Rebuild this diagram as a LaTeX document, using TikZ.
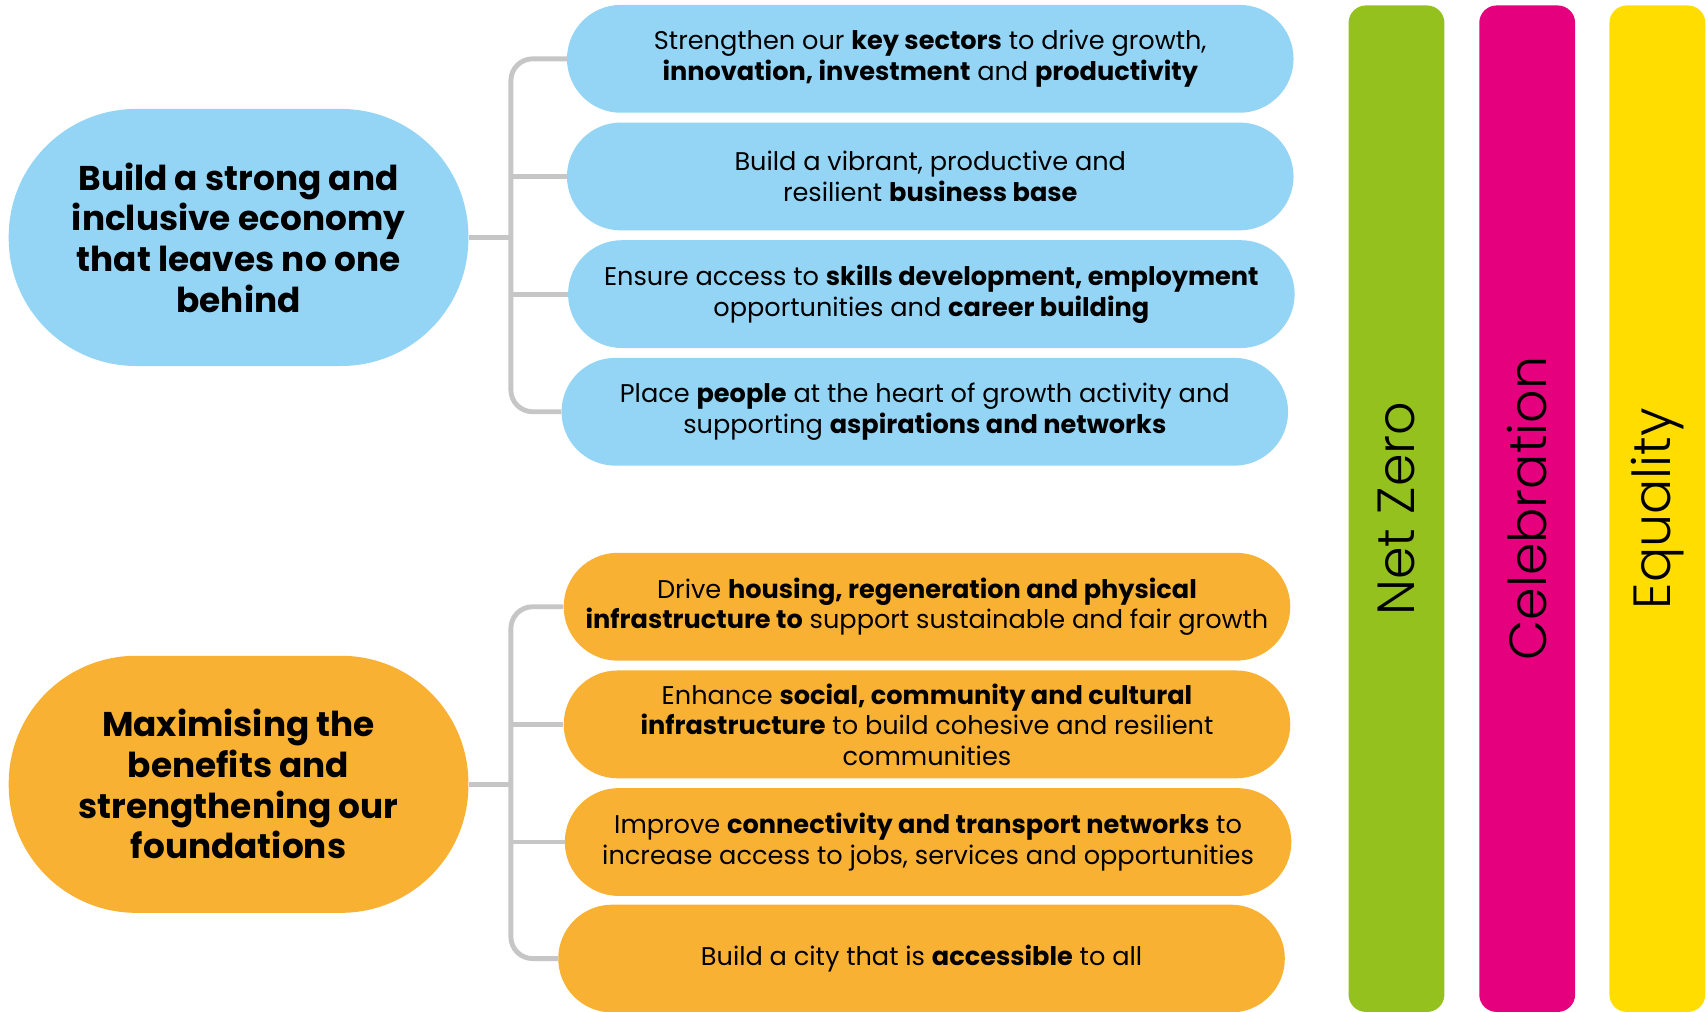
\documentclass[tikz,border=0pt]{standalone}
\usepackage{fontspec}
\setmainfont{Poppins}
\newfontfamily\barfont{Poppins Light}
\definecolor{cblue}{HTML}{94D5F5}
\definecolor{corange}{HTML}{F8B133}
\definecolor{cgreen}{HTML}{95C11F}
\definecolor{cpink}{HTML}{E5007D}
\definecolor{cyellow}{HTML}{FFDD00}
\definecolor{cgray}{HTML}{C6C6C6}
\begin{document}
\begin{tikzpicture}[x=1pt,y=-1pt,
  item/.style={rectangle, rounded corners=49.5pt, minimum width=667pt, minimum height=99pt, inner sep=0pt, align=center, font=\fontsize{23.5}{28}\selectfont, text=black},
  bigitem/.style={rectangle, rounded corners=117pt, minimum width=422pt, minimum height=236pt, inner sep=0pt, align=center, font=\fontsize{31.5}{37.3}\selectfont\bfseries, text=black},
  bar/.style={rectangle, rounded corners=16pt, rotate=90, minimum width=924pt, minimum height=88pt, inner sep=0pt, font=\fontsize{48}{54}\selectfont\barfont, text=black},
  conn/.style={draw=cgray, line width=4.5pt, rounded corners=20pt}]
\useasboundingbox (0,0) rectangle (1568,929);

% vertical bars
\node[bar, fill=cgreen] (nz) at (1282,467) {Net Zero};
\node[bar, fill=cpink] (cel) at (1402,467) {Celebration};
\node[bar, fill=cyellow] (eq) at (1521.5,467) {Equality};

% spine coordinate
\coordinate (sp) at (469,0);

% group 1
\node[bigitem, fill=cblue] (g1) at (219,218) {Build a strong and\\inclusive economy\\that leaves no one\\behind};
\node[item, fill=cblue] (b1) at (854,54) {Strengthen our \textbf{key sectors} to drive growth,\\\textbf{innovation, investment} and \textbf{productivity}};
\node[item, fill=cblue] (b2) at (854,162) {Build a vibrant, productive and\\resilient \textbf{business base}};
\node[item, fill=cblue] (b3) at (855,270) {Ensure access to \textbf{skills development, employment}\\opportunities and \textbf{career building}};
\node[item, fill=cblue] (b4) at (849,378) {Place \textbf{people} at the heart of growth activity and\\supporting \textbf{aspirations and networks}};

% group 2
\node[bigitem, fill=corange] (g2) at (219,720) {Maximising the\\benefits and\\strengthening our\\foundations};
\node[item, fill=corange] (b5) at (851,557) {Drive \textbf{housing, regeneration and physical}\\\textbf{infrastructure to} support sustainable and fair growth};
\node[item, fill=corange] (b6) at (851,665) {Enhance \textbf{social, community and cultural}\\\textbf{infrastructure} to build cohesive and resilient\\communities};
\node[item, fill=corange] (b7) at (852,773) {Improve \textbf{connectivity and transport networks} to\\increase access to jobs, services and opportunities};
\node[item, fill=corange] (b8) at (846,880) {Build a city that is \textbf{accessible} to all};

% connectors
\draw[conn] (b1.west) -- (b1.west -| sp) -- (b4.west -| sp) -- (b4.west);
\draw[conn] (b2.west) -- (b2.west -| sp);
\draw[conn] (b3.west) -- (b3.west -| sp);
\draw[conn] (g1.east) -- (g1.east -| sp);
\draw[conn] (b5.west) -- (b5.west -| sp) -- (b8.west -| sp) -- (b8.west);
\draw[conn] (b6.west) -- (b6.west -| sp);
\draw[conn] (b7.west) -- (b7.west -| sp);
\draw[conn] (g2.east) -- (g2.east -| sp);
\end{tikzpicture}
\end{document}
